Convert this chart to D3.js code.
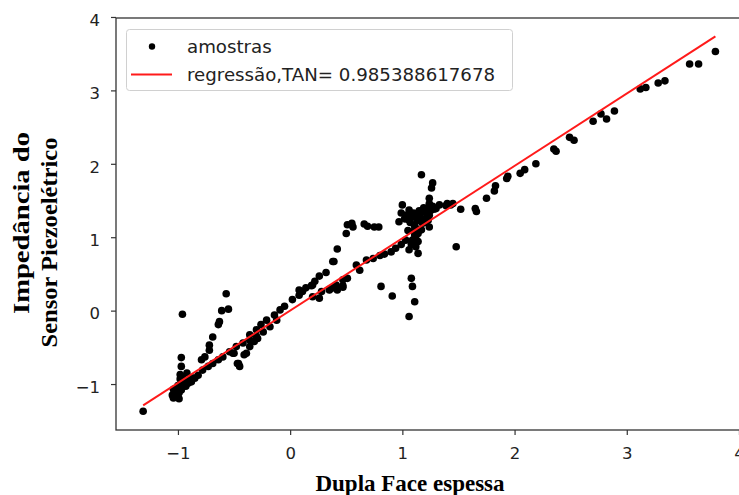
<!DOCTYPE html>
<html>
<head>
<meta charset="utf-8">
<script src="https://cdn.jsdelivr.net/npm/d3@7"></script>
<style>
  html, body { margin: 0; padding: 0; background: #fff; }
  svg { display: block; }
</style>
</head>
<body>
<svg id="chart" width="739" height="495"></svg>
<script>
// ---- data ----
const sampleX = [
  // upper right tail
  2.70, 2.77, 2.82, 2.89, 3.12, 3.17, 3.28, 3.34, 3.56, 3.64, 3.79,
  1.39, 1.43, 1.52, 1.65, 1.66, 1.75, 1.82, 1.83, 1.93, 1.94, 2.05, 2.09, 2.19, 2.35, 2.37, 2.49, 2.53,
  1.48, 1.40, 1.45, 1.33,
  // dense cluster near x = 1
  1.17, 1.27, 1.26, 1.24, 1.24, 1.00, 1.06, 0.99, 0.97, 1.05, 1.09, 1.14, 1.18, 1.21, 1.27, 1.30,
  1.24, 1.24, 1.18, 1.12, 1.11, 1.09, 1.14, 1.08, 1.06, 1.14,
  1.02, 1.07, 1.10, 1.13, 1.16, 1.20, 1.22, 1.25, 1.28, 1.15, 1.19, 1.03, 1.08, 1.11, 1.14, 1.17, 1.12, 1.10, 1.05, 1.20, 1.23,
  // outliers below cluster
  1.08, 1.09, 1.11, 1.06, 0.81, 0.91,
  // shelf at ~1.15
  0.55, 0.56, 0.66, 0.69, 0.75, 0.79, 0.50, 0.51, 0.42, 0.39,
  // along the line 0.35 - 1.05
  0.47, 0.51, 0.59, 0.62, 0.68, 0.74, 0.80, 0.84, 0.90, 0.94, 0.99, 1.03, 0.41, 0.38, 0.35, 1.12,
  // 0 - 0.4
  0.38, 0.32, 0.26, 0.22, 0.19, 0.11, 0.08, 0.02, -0.05, -0.09, -0.14, -0.21, -0.26, -0.30, -0.36,
  0.26, 0.42, 0.47, 0.08, 0.14, 0.20, 0.20, 0.28, 0.35, 0.41, 0.47,
  // left outlier arm
  -0.57, -0.55, -0.61, -0.63, -0.64, -0.69, -0.72, -0.72, -0.76, -0.79,
  -0.96, -0.97, -0.97, -0.98, -1.31,
  // main line lower left
  -1.04, -1.01, -0.98, -0.96, -0.91, -0.87, -0.82, -0.78, -0.73, -0.69, -0.64, -0.60, -0.54, -0.48, -0.42, -0.36, -0.30, -0.24, -0.18, -0.12,
  -0.51, -0.45, -0.47, -0.41, -0.36, -0.32, -0.29, -0.50, -0.46, -0.39,
  -1.05, -1.03, -1.00, -0.99, -1.02, -0.97, -0.95, -0.93, -0.90, -0.94, -0.88, -0.85, -0.99, -1.04, -1.00, -0.96, -0.92, -0.98, -1.04
];
const sampleY = [
  2.58, 2.68, 2.61, 2.72, 3.02, 3.04, 3.10, 3.13, 3.36, 3.36, 3.53,
  1.43, 1.44, 1.38, 1.39, 1.35, 1.53, 1.63, 1.70, 1.80, 1.83, 1.87, 1.92, 2.00, 2.20, 2.17, 2.36, 2.32,
  0.87, 1.46, 1.46, 1.44,
  1.85, 1.74, 1.67, 1.53, 1.46, 1.44, 1.37, 1.33, 1.21, 1.24, 1.28, 1.30, 1.35, 1.39, 1.42, 1.39,
  1.30, 1.14, 1.19, 1.12, 1.03, 0.96, 0.94, 0.90, 0.83, 0.78,
  1.25, 1.20, 1.33, 1.22, 1.27, 1.25, 1.32, 1.36, 1.38, 1.36, 1.40, 1.30, 1.29, 1.15, 1.05, 1.10, 0.98, 1.08, 1.09, 1.20, 1.23,
  0.44, 0.33, 0.12, -0.08, 0.33, 0.20,
  1.19, 1.14, 1.18, 1.15, 1.14, 1.14, 1.05, 1.17, 0.84, 0.67,
  0.42, 0.44, 0.62, 0.55, 0.69, 0.71, 0.75, 0.77, 0.80, 0.85, 0.90, 0.96, 0.35, 0.31, 0.28, 0.87,
  0.67, 0.52, 0.47, 0.40, 0.34, 0.26, 0.21, 0.15, 0.06, 0.01, -0.06, -0.13, -0.19, -0.26, -0.33,
  0.17, 0.28, 0.34, 0.28, 0.31, 0.35, 0.19, 0.26, 0.29, 0.31, 0.32,
  0.23, 0.02, 0.00, -0.15, -0.19, -0.36, -0.47, -0.54, -0.63, -0.67,
  -0.05, -0.64, -0.76, -0.87, -1.37,
  -1.19, -1.13, -1.08, -1.04, -0.99, -0.92, -0.88, -0.81, -0.76, -0.72, -0.67, -0.63, -0.56, -0.49, -0.44, -0.40, -0.35, -0.29, -0.22, -0.13,
  -0.58, -0.76, -0.72, -0.60, -0.49, -0.42, -0.38, -0.58, -0.72, -0.58,
  -1.15, -1.10, -1.17, -1.12, -1.06, -1.08, -1.00, -1.03, -0.95, -0.97, -0.97, -0.92, -1.20, -1.07, -1.02, -0.90, -0.85, -0.93, -1.18
];
const slope = 0.985388617678;
const intercept = 0.0;
const xTicks = [-1, 0, 1, 2, 3, 4];
const yTicks = [-1, 0, 1, 2, 3, 4];
const legendLabels = ["amostras", "regressão,TAN= 0.985388617678"];
const xTitle = "Dupla Face espessa";
const yTitleLines = ["Impedância do", "Sensor Piezoelétrico"];

// ---- layout ----
const svg = d3.select("#chart");
const L = 116, R = 741, T = 18, B = 430;
const x = d3.scaleLinear().domain([-1.552, 4.018]).range([L, R]);
const y = d3.scaleLinear().domain([-1.626, 3.986]).range([B, T]);
const fmt = d => (d < 0 ? "\u2212" + Math.abs(d) : String(d));

// points
const pts = sampleX.map((v, i) => [v, sampleY[i]]);
svg.append("g").selectAll("circle").data(pts).join("circle")
  .attr("cx", d => x(d[0])).attr("cy", d => y(d[1]))
  .attr("r", 3.8).attr("fill", "#000");

// regression line over data range
const xr = d3.extent(sampleX);
svg.append("line")
  .attr("x1", x(xr[0])).attr("y1", y(slope * xr[0] + intercept))
  .attr("x2", x(xr[1])).attr("y2", y(slope * xr[1] + intercept))
  .attr("stroke", "#ff1a1a").attr("stroke-width", 2);

// axes
const xAxis = svg.append("g").attr("transform", `translate(0,${B})`)
  .call(d3.axisBottom(x).tickValues(xTicks).tickFormat(fmt).tickSize(5).tickPadding(12));
const yAxis = svg.append("g").attr("transform", `translate(${L},0)`)
  .call(d3.axisLeft(y).tickValues(yTicks).tickFormat(fmt).tickSize(5).tickPadding(11));
[xAxis, yAxis].forEach(a => {
  a.select(".domain").remove();
  a.selectAll("line").attr("stroke", "#333").attr("stroke-width", 1.2);
  a.selectAll("text").attr("font-family", "DejaVu Sans").attr("font-size", 16.5).attr("fill", "#222");
});
yAxis.selectAll("text").attr("dy", "0.5em");

// spines
svg.append("rect").attr("x", L).attr("y", T).attr("width", R - L).attr("height", B - T)
  .attr("fill", "none").attr("stroke", "#333").attr("stroke-width", 1.3);

// legend
const lg = svg.append("g");
lg.append("rect").attr("x", 126.5).attr("y", 29.5).attr("width", 386).attr("height", 61)
  .attr("rx", 3).attr("fill", "#fff").attr("fill-opacity", 0.85)
  .attr("stroke", "#d0d0d0").attr("stroke-width", 1);
lg.append("circle").attr("cx", 152).attr("cy", 46.5).attr("r", 3.2).attr("fill", "#000");
lg.append("line").attr("x1", 131).attr("x2", 172).attr("y1", 74.5).attr("y2", 74.5)
  .attr("stroke", "#ff1a1a").attr("stroke-width", 2);
lg.selectAll("text.lt").data(legendLabels).join("text").attr("class", "lt")
  .attr("x", 187).attr("y", (d, i) => 52.5 + i * 28)
  .attr("font-family", "DejaVu Sans").attr("font-size", 18.2).attr("fill", "#222")
  .text(d => d);

// axis titles
svg.append("text").attr("x", 410).attr("y", 491).attr("text-anchor", "middle")
  .attr("font-family", "Liberation Serif").attr("font-weight", "bold").attr("font-size", 23)
  .attr("fill", "#000").text(xTitle);
const yt = [{ cx: 28.5, cy: 223, len: 182 }, { cx: 56.5, cy: 242.5, len: 210 }];
svg.selectAll("text.yt").data(yTitleLines).join("text").attr("class", "yt")
  .attr("transform", (d, i) => `translate(${yt[i].cx},${yt[i].cy}) rotate(-90)`)
  .attr("text-anchor", "middle")
  .attr("font-family", "Liberation Serif").attr("font-weight", "bold").attr("font-size", 23)
  .attr("fill", "#000")
  .attr("textLength", (d, i) => yt[i].len).attr("lengthAdjust", "spacingAndGlyphs")
  .text(d => d);
</script>
</body>
</html>
